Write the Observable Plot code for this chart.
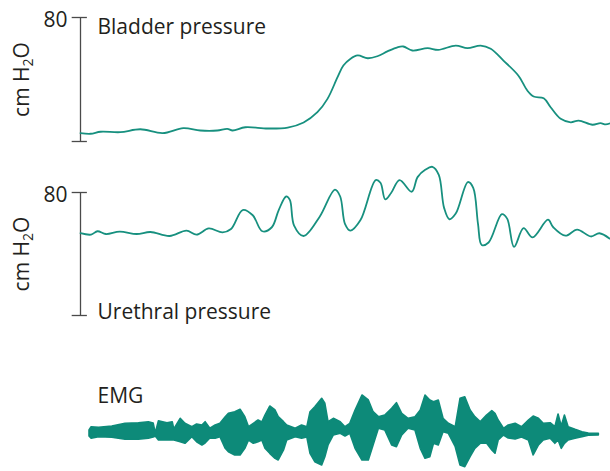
<!DOCTYPE html>
<html><head><meta charset="utf-8">
<script src="https://cdn.jsdelivr.net/npm/d3@7"></script>
<script src="https://cdn.jsdelivr.net/npm/@observablehq/plot@0.6"></script>
<style>
body{margin:0;background:#fff;}
#chart{width:610px;}
#chart svg{display:block;}
</style></head><body><div id="chart"></div>
<script>
// ---- data (time in arbitrary units 0–100) ----
const bladderTime = [0,1.9,3.8,7.5,11.3,15.5,19.4,22.6,25.8,27.7,28.7,31.1,35.3,39.1,42.1,44.7,46.6,48.5,49.6,50.9,52.3,54.2,56.0,57.9,59.8,60.9,62.6,65.5,67.5,70.8,73.0,75.5,77.4,79.8,82.6,84.3,85.5,87.4,88.7,90.6,92.5,94.0,96.6,98.1,99.1,100];
const bladderPressure = [5.4,5.0,6.3,6.0,7.9,5.4,8.6,7.1,7.1,8.2,7.1,9.2,8.4,9.0,12.3,18.9,27.5,41.5,49.0,53.3,55.5,53.7,55.0,58.1,60.8,61.3,58.7,60.2,59.1,61.9,60.2,61.9,59.8,52.2,42.6,32.9,29.0,27.9,22.1,14.6,12.4,13.5,10.8,11.8,11.0,11.8];

const urethralTime = [0,2.0,3.2,4.8,7.4,10.6,13.2,16.8,20.0,21.9,24.2,26.8,28.4,30.6,32.5,34.3,36.1,37.4,38.8,39.5,40.3,42.1,45.1,48.0,49.0,49.9,50.9,52.8,55.7,56.6,57.5,58.6,60.2,62.5,63.6,65.1,66.4,67.6,68.6,69.6,70.8,73.1,74.1,75.0,75.7,77.0,79.5,80.5,81.8,83.6,85.3,88.2,89.2,91.5,93.7,96.3,97.9,99.8];
const urethralPressure = [53.5,52.6,54.8,53.0,54.6,53.0,54.3,51.7,55.2,52.6,56.6,54.1,56.3,68.6,65.2,54.8,57.4,68.6,77.4,75.2,58.5,51.7,64.1,81.9,77.4,59.6,55.2,61.9,88.1,86.3,75.6,79.7,88.1,80.5,90.0,94.9,96.7,91.5,70.0,62.6,66.3,86.8,83.0,59.6,45.9,47.5,65.9,63.0,44.6,56.8,50.8,62.3,57.4,51.9,55.9,51.4,53.5,50.1];

const emgTime  = [1.7,2.1,3.5,6.0,8.5,11.0,12.9,13.8,14.2,14.8,16.4,17.4,17.7,18.9,19.8,21.1,22.0,23.0,23.6,24.5,25.5,26.4,27.4,28.0,29.2,30.2,31.1,31.8,32.7,33.6,34.3,34.9,35.8,36.8,37.4,38.4,39.0,40.6,41.8,42.8,43.4,44.3,45.6,46.2,46.8,47.8,49.1,50.0,50.9,51.9,53.2,54.4,55.3,56.3,57.5,58.8,59.7,60.7,61.9,63.2,64.2,65.1,66.0,66.7,67.6,68.5,69.5,70.8,71.7,72.6,73.6,74.5,75.5,76.7,77.7,78.3,78.9,79.9,80.8,82.1,83.3,84.6,85.5,86.5,87.4,88.7,89.6,90.2,90.8,91.4,92.1,93.4,94.7,95.9,97.8];
const emgUpper = [3,6.3,5.7,7,9.7,10.3,11.3,10,0,12.3,10.3,11.3,4,14.7,9.7,6.3,9,8,11.3,4.7,8,9.7,16.3,19.7,21.3,23.7,16.3,6.3,9.7,13,11,18,27,23,16.3,11.3,8,4.7,8,6.3,21.3,26.3,34.7,29.7,11.3,14.7,11.3,6.3,9.7,23,38,33,21.3,16.3,18,24.7,30.3,19.7,14.7,16.3,23,38,33,31.3,33,14.7,9.7,6.3,34.7,36.3,23,16.3,11.3,18,22.3,19.7,13,4.7,8,9.7,6.3,13,17,14.7,9.7,10.3,6.3,19,7,18,6.3,3.7,1.3,0,-0.3];
const emgLower = [-3,-5.3,-3.7,-4.3,-6.3,-6.3,-5.3,-4,-3,-7,-7,-7,-7,-8.7,-10.3,-3.7,-8.7,-12,-10,-5,-5.3,-3.7,-15.3,-18.7,-22,-22,-15.3,-7,-10.3,-8.7,-7,-15.3,-20.3,-25.3,-27,-17,-7,-3.7,-5.3,-4,-20.3,-28.7,-32,-23.7,-12,-2,-0.3,-3,-0.3,-15.3,-27,-27,-12,4.7,3,-12,-13.7,-2,4.7,3,-15.3,-25.3,-23.7,-10.3,-12,1.3,-0.3,-13.7,-32,-33.7,-23.7,-15.3,-10.3,-10,-17,-20.3,-7,-2,-5,-6,-4,-7,-22,-12,-7,-5.3,-10.3,-7,-15.3,-10.3,-7,-5.3,-3.7,-2.3,-2];

const yTicks = [0, 80];
const yTickLabels = ["", "80"];
const panelTitles = ["Bladder pressure", "Urethral pressure", "EMG"];
const unitLabel = "cm H₂O";

// ---- styling ----
const FONT = "'Open Sans', 'Noto Sans', sans-serif";
const FS = 21;
const TXT = "#231f20";
const AXIS = "#4a4a4a";
const LINE = "#17907f";
const FILL = "#0d8a79";
const W = 610;

const bladder = bladderTime.map((t, i) => ({t, v: bladderPressure[i]}));
const urethral = urethralTime.map((t, i) => ({t, v: urethralPressure[i]}));
const emg = emgTime.map((t, i) => ({t, hi: emgUpper[i], lo: emgLower[i]}));
const ticks = yTicks.map((v, i) => ({v, label: yTickLabels[i]}));

function pressurePanel(data, title, height, mt, mb, titleAtTop) {
  return Plot.plot({
    width: W, height,
    marginLeft: 80, marginRight: 0, marginTop: mt, marginBottom: mb,
    style: {fontFamily: FONT, background: "transparent", overflow: "visible"},
    x: {domain: [0, 100], axis: null},
    y: {domain: [0, 80], axis: null},
    marks: [
      Plot.ruleX([0], {y1: 0, y2: 80, stroke: AXIS, strokeWidth: 1.3}),
      Plot.ruleY(ticks, {y: "v", x1: -1.57, x2: 1.3, stroke: AXIS, strokeWidth: 1.3}),
      Plot.text(ticks, {x: 0, y: "v", text: "label", textAnchor: "end", dx: -13, dy: 3,
        fontSize: FS, fill: TXT, lineAnchor: "middle"}),
      Plot.text([unitLabel], {frameAnchor: "left", text: d => d, rotate: -90, dx: -58,
        fontSize: FS, fill: TXT, lineAnchor: "middle", textAnchor: "middle"}),
      Plot.text([title], {x: 0, y: titleAtTop ? 80 : 0, text: d => d, textAnchor: "start", dx: 17,
        dy: titleAtTop ? 2 : -3, lineAnchor: titleAtTop ? "top" : "middle", fontSize: FS, fill: TXT}),
      Plot.line(data, {x: "t", y: "v", stroke: LINE, strokeWidth: 1.8, curve: "catmull-rom"})
    ]
  });
}

const p1 = pressurePanel(bladder, panelTitles[0], 150, 17, 9, true);
const p2 = pressurePanel(urethral, panelTitles[1], 180, 42, 15, false);
const p3 = Plot.plot({
  width: W, height: 100,
  marginLeft: 80, marginRight: 0, marginTop: 0, marginBottom: 0,
  style: {fontFamily: FONT, background: "transparent", overflow: "visible"},
  x: {domain: [0, 100], axis: null},
  y: {domain: [-38, 62], axis: null},
  marks: [
    Plot.areaY(emg, {x: "t", y1: "lo", y2: "hi", fill: FILL, stroke: FILL, strokeWidth: 1.6,
      strokeLinejoin: "round", curve: "linear"}),
    Plot.text([panelTitles[2]], {frameAnchor: "top-left", text: d => d, dx: 17, dy: 17,
      lineAnchor: "top", fontSize: FS, fill: TXT})
  ]
});

const root = document.getElementById("chart");
root.appendChild(p1);
root.appendChild(p2);
const spacer = document.createElement("div");
spacer.style.height = "41px";
root.appendChild(spacer);
root.appendChild(p3);

// subscript for H2O
d3.selectAll("#chart svg text").each(function() {
  if (this.textContent === unitLabel) {
    const t = d3.select(this);
    t.text(null);
    t.append("tspan").text("cm H");
    t.append("tspan").attr("font-size", "14").attr("dy", "4").text("2");
    t.append("tspan").attr("dy", "-4").text("O");
  }
});
</script>
</body></html>
